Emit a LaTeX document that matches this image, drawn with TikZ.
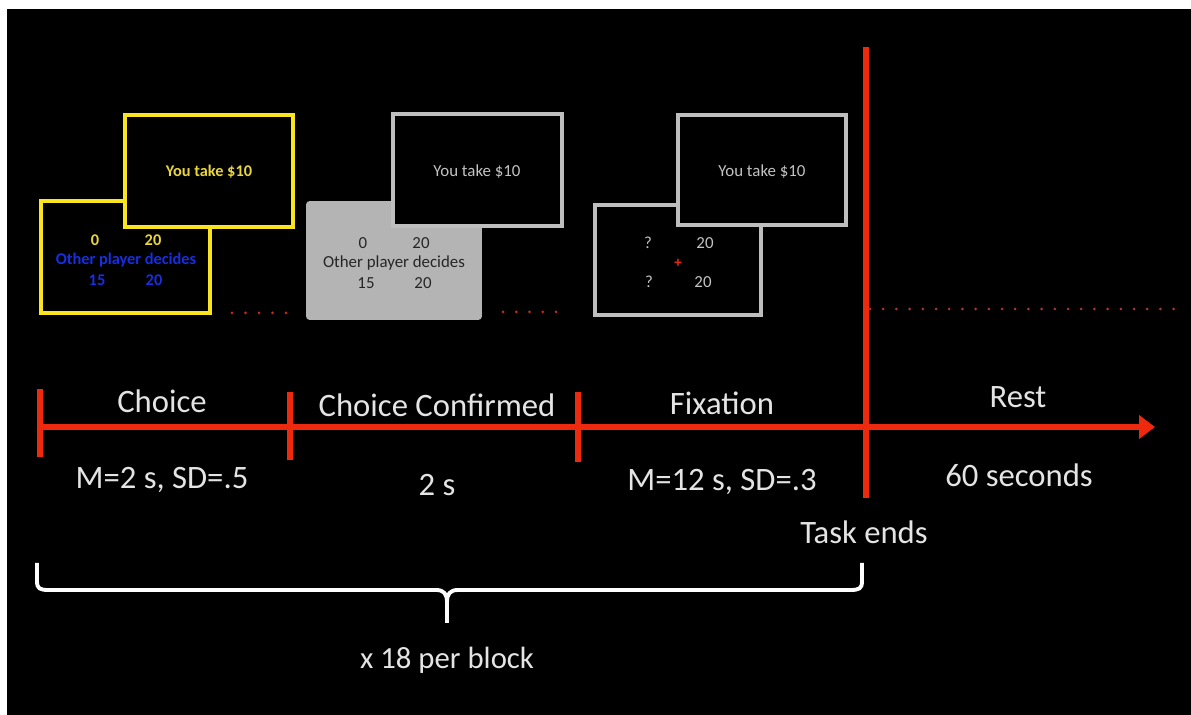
\documentclass[tikz,border=0pt]{standalone}
\usepackage{fontspec}
\setmainfont{Carlito}
\usetikzlibrary{arrows.meta}

\definecolor{tred}{RGB}{238,42,14}
\definecolor{dotred}{RGB}{200,40,30}
\definecolor{dimred}{RGB}{165,55,55}
\definecolor{yel}{RGB}{250,228,30}
\definecolor{yeltext}{RGB}{232,214,60}
\definecolor{bluetext}{RGB}{25,45,225}
\definecolor{frame}{RGB}{190,190,190}
\definecolor{panelfill}{RGB}{180,180,180}
\definecolor{labeltext}{RGB}{228,228,228}
\definecolor{softgray}{RGB}{195,195,195}

\tikzset{
  yelframe/.style={draw=yel, line width=2.3pt, fill=black},
  grayframe/.style={draw=frame, line width=2.3pt, fill=black},
  grayblock/.style={fill=panelfill, draw=panelfill, line width=1pt, rounded corners=1.5pt},
  redline/.style={draw=tred, line width=3.6pt},
  bracepath/.style={draw=white, line width=2.2pt},
  small/.style={font=\fontsize{9.6pt}{11pt}\selectfont, inner sep=0pt},
  smallbold/.style={font=\fontsize{9.3pt}{11pt}\selectfont\bfseries, inner sep=0pt},
  biglabel/.style={font=\fontsize{18.6pt}{22pt}\selectfont, text=labeltext, inner sep=0pt},
}

\begin{document}
\begin{tikzpicture}[x=0.02cm, y=-0.02cm]
  % page and black backdrop
  \useasboundingbox (0,0) rectangle (1191,715);
  \fill[white] (0,0) rectangle (1191,715);
  \fill[black] (7,9) rectangle (1191,715);

  % ---- screen 1: choice (yellow) ----
  \draw[yelframe] (41,201) rectangle (210,313);
  \draw[yelframe] (125,115) rectangle (293,227);
  \node[smallbold, text=yeltext] (c1top) at (209,172) {You take \$10};
  \node[smallbold, text=yeltext] (c1a) at (95,240) {0};
  \node[smallbold, text=yeltext] (c1b) at (153,240) {20};
  \node[smallbold, text=bluetext] (c1mid) at (126,260) {Other player decides};
  \node[smallbold, text=bluetext] (c1c) at (97,280) {15};
  \node[smallbold, text=bluetext] (c1d) at (154,280) {20};
  \foreach \i in {0,...,4} \fill[dotred] (232+\i*13.5,313) circle (1.5);

  % ---- screen 2: choice confirmed (grey) ----
  \draw[grayblock] (307,202) rectangle (481,319);
  \draw[grayframe] (393,114) rectangle (562,226);
  \node[small, text=softgray] (c2top) at (477,172) {You take \$10};
  \node[small, text=black!85] (c2a) at (363,243) {0};
  \node[small, text=black!85] (c2b) at (421,243) {20};
  \node[small, text=black!85] (c2mid) at (394,263) {Other player decides};
  \node[small, text=black!85] (c2c) at (366,283) {15};
  \node[small, text=black!85] (c2d) at (423,283) {20};
  \foreach \i in {0,...,4} \fill[dotred] (503+\i*13.25,312) circle (1.5);

  % ---- screen 3: fixation (grey) ----
  \draw[grayframe] (595,205) rectangle (761,315);
  \draw[grayframe] (678,115) rectangle (846,225);
  \node[small, text=softgray] (c3top) at (762,172) {You take \$10};
  \node[small, text=softgray] (c3a) at (648,243) {?};
  \node[small, text=softgray] (c3b) at (705,243) {20};
  \node[small, text=tred, font=\fontsize{8.5pt}{10pt}\selectfont\bfseries] (c3fix) at (678,263) {+};
  \node[small, text=softgray] (c3c) at (649,282) {?};
  \node[small, text=softgray] (c3d) at (703,282) {20};

  % ---- timeline ----
  \coordinate (t0) at (40,427);
  \coordinate (t1) at (290,427);
  \coordinate (t2) at (578,427);
  \coordinate (tend) at (866,427);
  \coordinate (tip) at (1155,427);
  \coordinate (endtop) at (866,47);
  \coordinate (endbot) at (866,498);

  \draw[redline, -{Triangle[length=9pt, width=13pt]}] (t0) -- (tip);
  \draw[redline] (40,389) -- (40,457);
  \draw[redline] (290,392) -- (290,460);
  \draw[redline] (578,392) -- (578,462);
  \draw[redline] (endtop) -- (endbot);

  % rest period continuation
  \foreach \i in {0,...,23} \fill[dimred] (870+\i*13.2,309) circle (1.5);

  % phase names and durations
  \node[biglabel] (lchoice) at (162,401) {Choice};
  \node[biglabel] (lconf) at (437,405) {Choice Confirmed};
  \node[biglabel] (lfix) at (722,403) {Fixation};
  \node[biglabel] (lrest) at (1018,397) {Rest};
  \node[biglabel] (dchoice) at (162,480) {M=2 s, SD=.5};
  \node[biglabel] (dconf) at (437,485) {2 s};
  \node[biglabel] (dfix) at (722,482) {M=12 s, SD=.3};
  \node[biglabel] (drest) at (1019,475) {60 seconds};
  \node[biglabel] (lend) at (864,532) {Task ends};

  % trial repetition brace
  \draw[bracepath, line join=round]
    (37,563) -- (37,581) .. controls (37,589) and (40,590) .. (49,590)
    -- (436,590) .. controls (444,590) and (447,594) .. (447,602) -- (447,623);
  \draw[bracepath, line join=round]
    (862,563) -- (862,581) .. controls (862,589) and (859,590) .. (850,590)
    -- (458,590) .. controls (450,590) and (447,594) .. (447,602);
  \node[biglabel, font=\fontsize{17.5pt}{21pt}\selectfont] (lrep) at (447,660) {x 18 per block};
\end{tikzpicture}
\end{document}
